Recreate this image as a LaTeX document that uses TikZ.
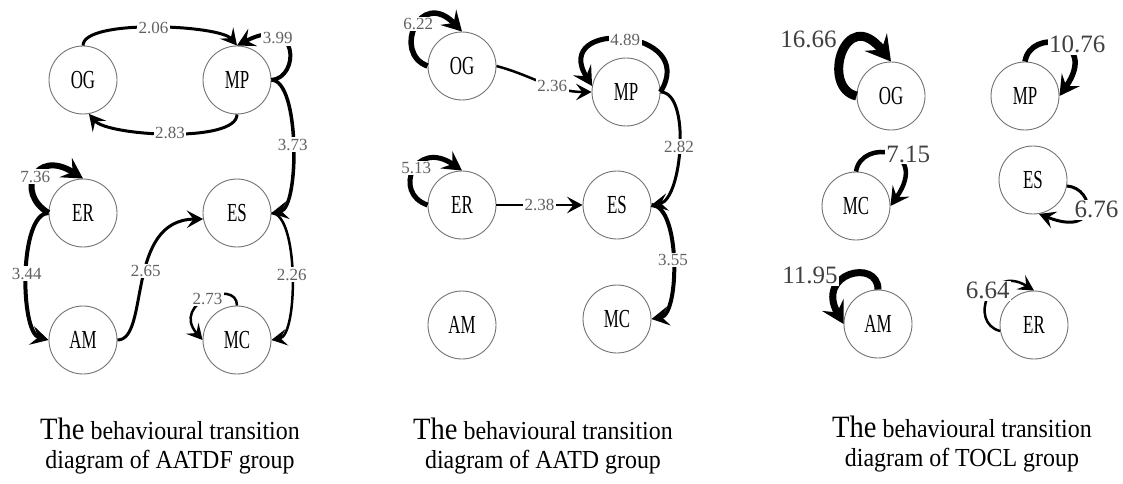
\documentclass[tikz,border=0pt]{standalone}
\usepackage{fontspec}
\setmainfont{Liberation Serif}
\newfontfamily\narrowfont[FakeStretch=0.65]{Liberation Serif}
\newfontfamily\capfont[FakeStretch=0.92]{Liberation Serif}
\usetikzlibrary{arrows.meta}

\begin{document}
\begin{tikzpicture}[x=0.5pt,y=0.5pt,
	state/.style={circle,draw=black!55,line width=0.45pt,minimum size=34pt,inner sep=0pt,font=\narrowfont\fontsize{13}{13}\selectfont},
	flow/.style={line width=#1*0.5pt,-{Stealth[length=6pt 1.4,width=6pt 1.8,inset=2.5pt 0.5]}},
	wt/.style={fill=white,inner sep=0.8pt,text=black!62,font=\fontsize{8.5}{9}\selectfont},
	wtbig/.style={fill=white,inner sep=0.8pt,text=black!75,font=\fontsize{12.5}{13}\selectfont},
	caption/.style={align=center,font=\capfont\fontsize{13}{14.5}\selectfont}]
	\useasboundingbox (0,0) rectangle (1123,483);

	\node[state] (og1) at (83,403) {OG};
	\node[state] (mp1) at (237,403) {MP};
	\node[state] (er1) at (83,270) {ER};
	\node[state] (es1) at (237,270) {ES};
	\node[state] (am1) at (83,143) {AM};
	\node[state] (mc1) at (237,143) {MC};

	\draw[flow=3] (og1.north) to[out=90,in=130,looseness=0.45] node[wt]{2.06} (mp1.north);
	\draw[flow=4] (mp1.east) .. controls (300,405) and (300,470) .. node[wt,pos=0.7]{3.99} (mp1.north);
	\draw[flow=3.5] (mp1.east) to[out=0,in=10,looseness=0.55] node[wt]{3.73} (es1.east);
	\draw[flow=3] (mp1.south) to[out=-90,in=-50,looseness=0.5] node[wt]{2.83} (og1.-80);
	\draw[flow=6] (er1.west) .. controls (15,290) and (35,335) .. node[wt]{7.36} (er1.north);
	\draw[flow=4] (er1.west) to[out=180,in=165,looseness=0.6] node[wt]{3.44} (am1.west);
	\draw[flow=3] (am1.east) .. controls (150,143) and (125,263) .. node[wt,pos=0.55]{2.65} (es1.190);
	\draw[flow=2.5] (es1.east) to[out=0,in=10,looseness=0.55] node[wt]{2.26} (mc1.east);
	\draw[flow=2.5] (mc1.north) .. controls (237,205) and (170,180) .. node[wt]{2.73} (mc1.west);

	\node[state] (og2) at (462,417) {OG};
	\node[state] (mp2) at (626,391) {MP};
	\node[state] (er2) at (462,278) {ER};
	\node[state] (es2) at (617,278) {ES};
	\node[state] (am2) at (462,158) {AM};
	\node[state] (mc2) at (617,164) {MC};

	\draw[flow=5.5] (og2.west) .. controls (392,430) and (420,495) .. node[wt,pos=0.55]{6.22} (og2.north);
	\draw[flow=2.5] (og2.east) to[out=-15,in=180] node[wt,pos=0.6]{2.36} (mp2.west);
	\draw[flow=5] (mp2.east) .. controls (700,455) and (550,465) .. node[wt]{4.89} (mp2.170);
	\draw[flow=3] (mp2.east) to[out=0,in=10,looseness=0.7] node[wt]{2.82} (es2.east);
	\draw[flow=5] (er2.west) .. controls (392,290) and (415,345) .. node[wt,pos=0.55]{5.13} (er2.north);
	\draw[flow=2.5] (er2) -- node[wt]{2.38} (es2);
	\draw[flow=4] (es2.east) to[out=0,in=10,looseness=0.65] node[wt]{3.55} (mc2.east);

	\node[state] (og3) at (891,387) {OG};
	\node[state] (mp3) at (1025,387) {MP};
	\node[state] (mc3) at (856,277) {MC};
	\node[state] (es3) at (1033,303) {ES};
	\node[state] (am3) at (878,159) {AM};
	\node[state] (er3) at (1034,158) {ER};

	\draw[flow=9] (og3.west) .. controls (820,395) and (845,480) .. node[wtbig,anchor=south east]{16.66} (og3.north);
	\draw[flow=5.5] (mp3.north) .. controls (1030,455) and (1100,445) .. node[wtbig,xshift=9pt]{10.76} (mp3.east);
	\draw[flow=4.5] (mc3.north) .. controls (861,345) and (931,335) .. node[wtbig,xshift=9pt]{7.15} (mc3.east);
	\draw[flow=3] (es3.-10) .. controls (1095,295) and (1100,245) .. node[wtbig,xshift=5pt]{6.76} (es3.-80);
	\draw[flow=7] (am3.north) .. controls (878,225) and (815,210) .. node[wtbig,xshift=-20pt]{11.95} (am3.west);
	\draw[flow=2.5] (er3.190) .. controls (968,160) and (990,220) .. node[wtbig,pos=0.6,xshift=-3pt]{6.64} (er3.north);

	\node[caption] (cap1) at (170,37) {{\fontsize{15.5}{14.5}\selectfont The} behavioural transition\\diagram of AATDF group};
	\node[caption] (cap2) at (543,37) {{\fontsize{15.5}{14.5}\selectfont The} behavioural transition\\diagram of AATD group};
	\node[caption] (cap3) at (962,39) {{\fontsize{15.5}{14.5}\selectfont The} behavioural transition\\diagram of TOCL group};
\end{tikzpicture}
\end{document}
